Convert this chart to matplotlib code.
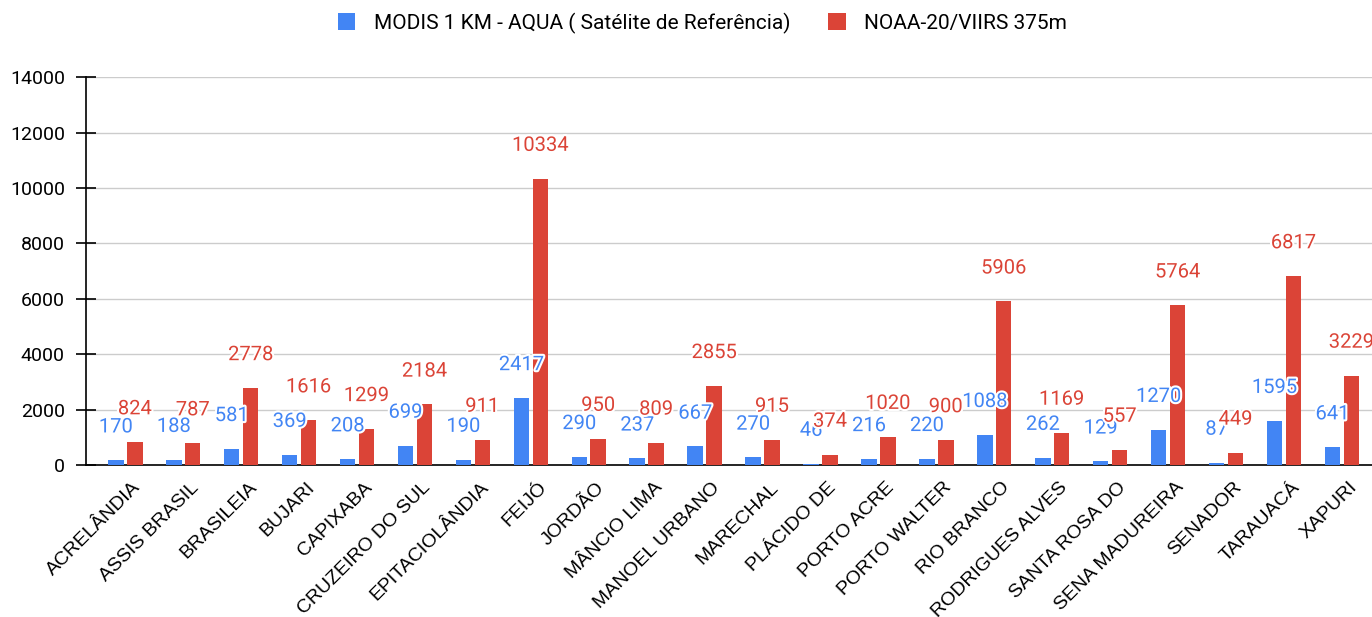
import numpy as np
import matplotlib.pyplot as plt
import matplotlib.patheffects as pe
from matplotlib.transforms import ScaledTranslation

municipios = ["ACRELÂNDIA", "ASSIS BRASIL", "BRASILEIA", "BUJARI", "CAPIXABA",
              "CRUZEIRO DO SUL", "EPITACIOLÂNDIA", "FEIJÓ", "JORDÃO", "MÂNCIO LIMA",
              "MANOEL URBANO", "MARECHAL", "PLÁCIDO DE", "PORTO ACRE", "PORTO WALTER",
              "RIO BRANCO", "RODRIGUES ALVES", "SANTA ROSA DO", "SENA MADUREIRA",
              "SENADOR", "TARAUACÁ", "XAPURI"]
modis = [170, 188, 581, 369, 208, 699, 190, 2417, 290, 237, 667,
         270, 46, 216, 220, 1088, 262, 129, 1270, 87, 1595, 641]
viirs = [824, 787, 2778, 1616, 1299, 2184, 911, 10334, 950, 809, 2855,
         915, 374, 1020, 900, 5906, 1169, 557, 5764, 449, 6817, 3229]

azul = "#4285F4"
vermelho = "#DB4437"

plt.rcParams['font.family'] = ['Roboto', 'DejaVu Sans']

fig = plt.figure(figsize=(13.72, 6.17), dpi=100)
ax = fig.add_axes([0.0627, 0.2464, 0.9373, 0.6286])

x = np.arange(len(municipios))
w = 0.268
b1 = ax.bar(x - 0.163, modis, w, color=azul, label="MODIS 1 KM - AQUA ( Satélite de Referência)", zorder=3)
b2 = ax.bar(x + 0.163, viirs, w, color=vermelho, label="NOAA-20/VIIRS 375m", zorder=3)

# rótulos de dados com contorno branco
halo = [pe.withStroke(linewidth=3, foreground="white")]
for serie, barras, cor in [(modis, b1, azul), (viirs, b2, vermelho)]:
    for v, r in zip(serie, barras):
        ax.annotate(str(v), (r.get_x() + r.get_width() / 2, v),
                    xytext=(0, 24), textcoords="offset points",
                    ha="center", va="center", fontsize=14.5, color=cor,
                    path_effects=halo, zorder=5)

ax.set_ylim(0, 14000)
ax.set_yticks(range(0, 14001, 2000))
ax.set_xlim(-0.678, 21.52)
ax.set_xticks(x)
ax.set_xticklabels([])

# nomes dos municípios inclinados, um pouco deslocados como no original
desloc = ax.get_xaxis_transform() + ScaledTranslation(7 / 100, -14 / 100, fig.dpi_scale_trans)
for i, nome in enumerate(municipios):
    ax.text(i, 0, nome, transform=desloc, rotation=45, ha="right", va="top",
            rotation_mode="anchor", fontsize=14, family="Liberation Sans",
            clip_on=False)

ax.tick_params(axis="x", length=0)
ax.tick_params(axis="y", direction="inout", length=14.4, width=1.2, pad=8, labelsize=14)
ax.grid(axis="y", color="#cccccc", linewidth=1, zorder=0)
ax.set_axisbelow(True)
for s in ["top", "right"]:
    ax.spines[s].set_visible(False)
ax.spines["left"].set_linewidth(1.2)
ax.spines["bottom"].set_linewidth(1.2)

fig.legend(handles=[b1, b2], loc="upper center", bbox_to_anchor=(0.512, 1.01),
           ncol=2, frameon=False, fontsize=15, handlelength=0.85, handleheight=0.85,
           columnspacing=1.8, handletextpad=0.9)

fig.savefig("out.png", dpi=100)
